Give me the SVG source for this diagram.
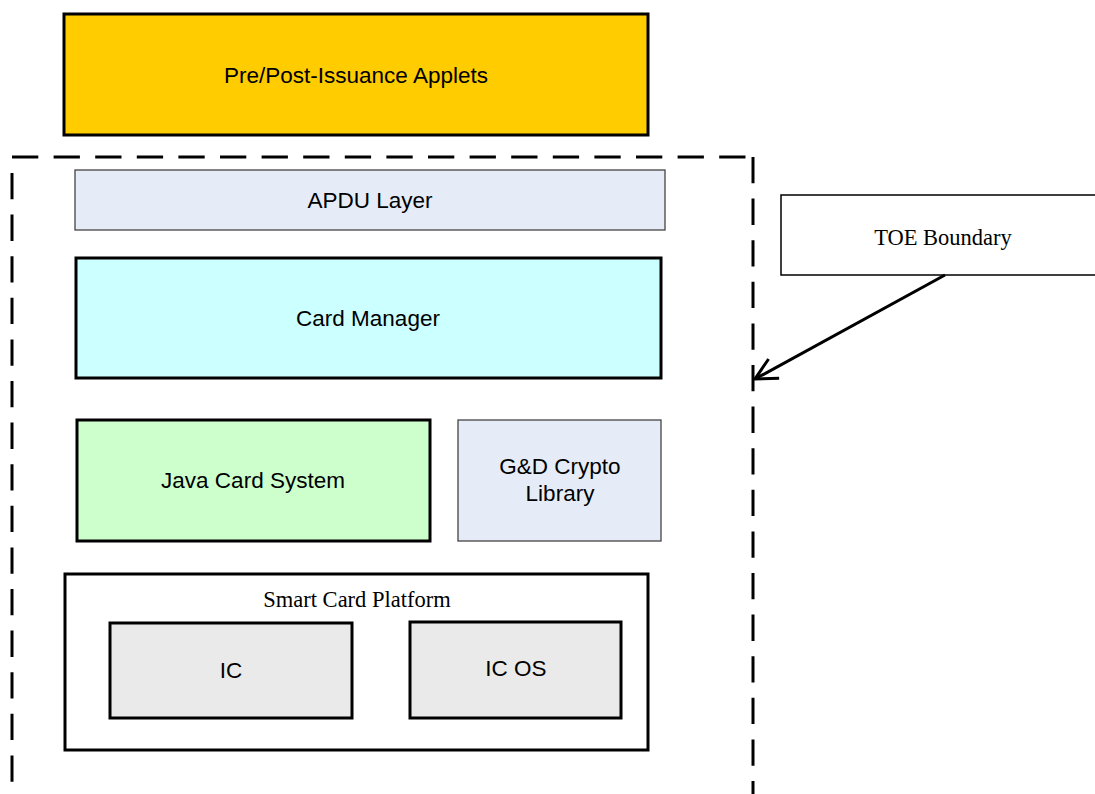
<svg xmlns="http://www.w3.org/2000/svg" width="1095" height="794" viewBox="0 0 1095 794">
<style>
.sans{font-family:"Liberation Sans",Arial,sans-serif;font-size:22.5px;fill:#000;text-anchor:middle}
.serif{font-family:"Liberation Serif","Times New Roman",serif;font-size:22.5px;fill:#000;text-anchor:middle}
.thick{stroke:#000;stroke-width:3}
.thin{stroke:#444;stroke-width:1.3}
.dash{fill:none;stroke:#000;stroke-width:3;stroke-dasharray:26.3 15.3}
</style>
<defs>
<marker id="open" markerUnits="userSpaceOnUse" markerWidth="40" markerHeight="40" viewBox="-30 -20 40 40" refX="0" refY="0" orient="auto">
<path d="M -21.5 -11 L 0 0 L -21.5 11" fill="none" stroke="#000" stroke-width="3"/>
</marker>
</defs>
<rect width="1095" height="794" fill="#fff"/>
<g id="boundary">
<line class="dash" x1="12" y1="157" x2="753" y2="157"/>
<line class="dash" x1="12" y1="173" x2="12" y2="794"/>
<line class="dash" x1="753" y1="157" x2="753" y2="794"/>
</g>
<g id="applets">
<rect x="64" y="14" width="584" height="121" fill="#FFCC00" class="thick"/>
<text class="sans" x="356" y="83">Pre/Post-Issuance Applets</text>
</g>
<g id="apdu">
<rect x="75" y="170" width="590" height="60" fill="#E6ECF7" class="thin"/>
<text class="sans" x="370" y="208">APDU Layer</text>
</g>
<g id="cardmanager">
<rect x="76" y="258" width="585" height="120" fill="#CCFFFF" class="thick"/>
<text class="sans" x="368" y="326">Card Manager</text>
</g>
<g id="jcs">
<rect x="77" y="420" width="353" height="121" fill="#CCFFCC" class="thick"/>
<text class="sans" x="253" y="488">Java Card System</text>
</g>
<g id="crypto">
<rect x="458" y="420" width="203" height="121" fill="#E6ECF7" class="thin"/>
<text class="sans" x="560" y="474">G&amp;D Crypto</text>
<text class="sans" x="560" y="501">Library</text>
</g>
<g id="platform">
<rect x="65" y="574" width="583" height="176" fill="#fff" class="thick"/>
<text class="serif" x="357" y="607">Smart Card Platform</text>
</g>
<g id="ic">
<rect x="110" y="623" width="242" height="95" fill="#EAEAEA" class="thick"/>
<text class="sans" x="231" y="678">IC</text>
</g>
<g id="icos">
<rect x="410" y="622" width="211" height="96" fill="#EAEAEA" class="thick"/>
<text class="sans" x="516" y="676">IC OS</text>
</g>
<g id="toe">
<rect x="781" y="195" width="318" height="80" fill="#fff" stroke="#000" stroke-width="1.5"/>
<text class="serif" x="943" y="245">TOE Boundary</text>
</g>
<g id="connectors">
<line x1="945" y1="275" x2="755" y2="379" stroke="#000" stroke-width="3" marker-end="url(#open)"/>
</g>
</svg>
